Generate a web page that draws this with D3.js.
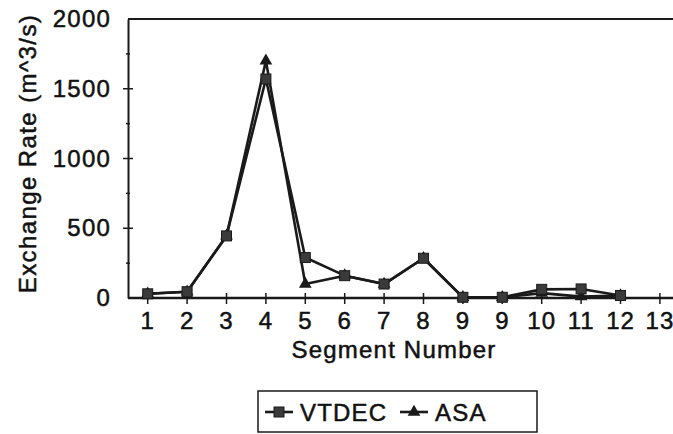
<!DOCTYPE html>
<html>
<head>
<meta charset="utf-8">
<script src="https://cdn.jsdelivr.net/npm/d3@7"></script>
<style>
  body { margin: 0; background: #fff; }
  svg text { font-family: "Liberation Sans", Arial, sans-serif; fill: #111; stroke: #111; stroke-width: 0.5px; }
</style>
</head>
<body>
<div id="chart"></div>
<script>
// segment labels (9 appears twice in the source figure)
const segments = ["1", "2", "3", "4", "5", "6", "7", "8", "9", "9", "10", "11", "12", "13"];
const vtdec = [30, 45, 445, 1570, 290, 160, 100, 285, 5, 5, 62, 65, 18, null];
const asa   = [30, 45, 445, 1700, 100, 160, 100, 285, 5, 5, 35, 10, 18, null];
const yTicks = [0, 500, 1000, 1500, 2000];
const yMinorTicks = [250, 750, 1250, 1750];
const seriesNames = ["VTDEC", "ASA"];

const width = 673, height = 434;
const margin = {top: 19, left: 128, bottom: 136};
const step = 39.4;

const svg = d3.select("#chart").append("svg")
    .attr("width", width)
    .attr("height", height);

const x = d3.scaleBand()
    .domain(d3.range(segments.length))
    .range([margin.left, margin.left + step * segments.length]);

const y = d3.scaleLinear()
    .domain([0, 2000])
    .range([height - margin.bottom, margin.top]);

const ink = "#1a1a1a";
const cx = i => x(i) + x.bandwidth() / 2;

// top border of the plot area
svg.append("line")
    .attr("x1", margin.left).attr("x2", width)
    .attr("y1", y(2000)).attr("y2", y(2000))
    .attr("stroke", ink).attr("stroke-width", 2);

// y axis
const yAxis = svg.append("g")
    .attr("transform", `translate(${margin.left},0)`)
    .call(d3.axisLeft(y).tickValues(yTicks).tickFormat(d3.format("d")).tickSize(0).tickPadding(17));
yAxis.select(".domain").attr("stroke", ink).attr("stroke-width", 2);
yAxis.selectAll("text").attr("font-size", 24).style("letter-spacing", "1.2px");

yAxis.selectAll(".major")
    .data(yTicks.slice(1, -1))
    .enter().append("line")
    .attr("x1", -5).attr("x2", 5)
    .attr("y1", d => y(d)).attr("y2", d => y(d))
    .attr("stroke", ink).attr("stroke-width", 1.5);
yAxis.selectAll(".minor")
    .data(yMinorTicks)
    .enter().append("line")
    .attr("x1", -2).attr("x2", 2)
    .attr("y1", d => y(d)).attr("y2", d => y(d))
    .attr("stroke", ink).attr("stroke-width", 1.5);

// x axis
const xAxis = svg.append("g")
    .attr("transform", `translate(0,${y(0)})`)
    .call(d3.axisBottom(x).tickFormat(i => segments[i]).tickSize(0).tickPadding(14));
xAxis.select(".domain").attr("stroke", ink).attr("stroke-width", 2.5)
    .attr("d", `M${margin.left},0H${width}`);
xAxis.selectAll("text").attr("font-size", 24).style("letter-spacing", "1px");
xAxis.selectAll(".tick").append("line")
    .attr("y1", -5).attr("y2", 6)
    .attr("stroke", ink).attr("stroke-width", 1.5);

// axis titles
svg.append("text")
    .attr("transform", `translate(36,${(y(0) + y(2000)) / 2 - 5}) rotate(-90)`)
    .attr("text-anchor", "middle")
    .attr("font-size", 24)
    .style("letter-spacing", "1.4px")
    .text("Exchange Rate (m^3/s)");

svg.append("text")
    .attr("x", 394)
    .attr("y", 358)
    .attr("text-anchor", "middle")
    .attr("font-size", 24)
    .style("letter-spacing", "1.2px")
    .text("Segment Number");

// lines
const line = d3.line()
    .defined(d => d != null)
    .x((d, i) => cx(i))
    .y(d => y(d));

[asa, vtdec].forEach(series => {
    svg.append("path")
        .datum(series)
        .attr("fill", "none")
        .attr("stroke", ink)
        .attr("stroke-width", 2.6)
        .attr("stroke-linejoin", "round")
        .attr("d", line);
});

// markers
const tri = d3.symbol().type(d3.symbolTriangle).size(70);
svg.append("g").selectAll("path")
    .data(asa.map((v, i) => ({v, i})).filter(d => d.v != null))
    .enter().append("path")
    .attr("d", tri)
    .attr("transform", d => `translate(${cx(d.i)},${y(d.v)})`)
    .attr("fill", ink);

svg.append("g").selectAll("rect")
    .data(vtdec.map((v, i) => ({v, i})).filter(d => d.v != null))
    .enter().append("rect")
    .attr("x", d => cx(d.i) - 5)
    .attr("y", d => y(d.v) - 5)
    .attr("width", 10).attr("height", 10)
    .attr("fill", "#3a3a3a")
    .attr("stroke", ink).attr("stroke-width", 1);

// legend
const legend = svg.append("g");
legend.append("rect")
    .attr("x", 258).attr("y", 391)
    .attr("width", 279).attr("height", 41)
    .attr("fill", "none")
    .attr("stroke", ink).attr("stroke-width", 1.5);

const legendX = [265, 400];
seriesNames.forEach((name, k) => {
    const g = legend.append("g").attr("transform", `translate(${legendX[k]},412)`);
    g.append("line")
        .attr("x1", 0).attr("x2", 28)
        .attr("stroke", ink).attr("stroke-width", 2.6);
    if (k === 0) {
        g.append("rect").attr("x", 9).attr("y", -5).attr("width", 10).attr("height", 10)
            .attr("fill", "#3a3a3a").attr("stroke", ink);
    } else {
        g.append("path").attr("d", tri).attr("transform", "translate(14,0)").attr("fill", ink);
    }
    g.append("text")
        .attr("x", 35)
        .attr("dy", "0.36em")
        .attr("font-size", 24)
        .style("letter-spacing", "1.2px")
        .text(name);
});
</script>
</body>
</html>
